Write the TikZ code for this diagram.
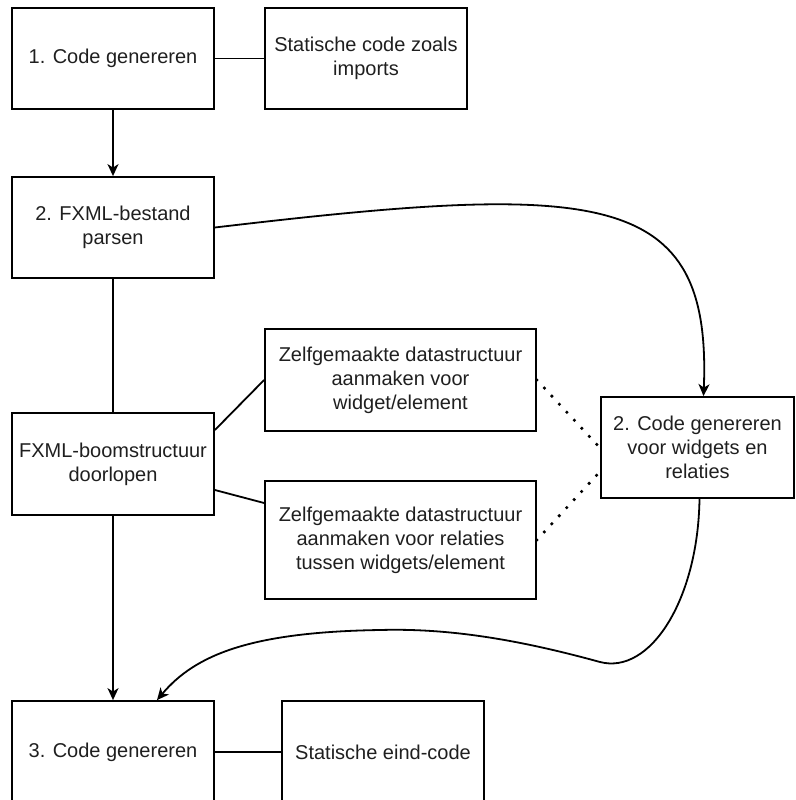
\documentclass[tikz,border=0pt]{standalone}
\usepackage{fontspec}
\setmainfont{Liberation Sans}
\usetikzlibrary{arrows.meta,calc}
\begin{document}
\begin{tikzpicture}[x=1pt,y=-1pt,
  box/.style={draw=black,line width=1.8pt,rectangle,align=center,
    inner sep=0pt,text=black!88,
    font=\fontsize{20}{24}\selectfont},
  link/.style={line width=1.8pt},
  flow/.style={line width=1.8pt,-{Stealth[length=12pt,width=11pt,inset=3.5pt]}},
  dots/.style={line width=3.6pt,line cap=round,dash pattern=on 0pt off 11pt}]
\useasboundingbox (0,0) rectangle (795,800);

\node[box,minimum width=202pt,minimum height=101pt] (b1) at (113,58.5) {1. Code genereren};
\node[box,minimum width=202pt,minimum height=101pt] (s1) at (366,58.5) {Statische code zoals\\imports};
\node[box,minimum width=202pt,minimum height=101pt] (b2) at (113,227.5) {2. FXML-bestand\\parsen};
\node[box,minimum width=202pt,minimum height=102pt] (b4) at (113,464) {FXML-boomstructuur\\doorlopen};
\node[box,minimum width=271pt,minimum height=102pt] (z1) at (400.5,380) {Zelfgemaakte datastructuur\\aanmaken voor\\widget/element};
\node[box,minimum width=271pt,minimum height=118pt] (z2) at (400.5,540) {Zelfgemaakte datastructuur\\aanmaken voor relaties\\tussen widgets/element};
\node[box,minimum width=193pt,minimum height=101pt] (cw) at (697.5,447.5) {2. Code genereren\\voor widgets en\\relaties};
\node[box,minimum width=202pt,minimum height=102pt] (b3) at (113,752) {3. Code genereren};
\node[box,minimum width=202pt,minimum height=102pt] (s3) at (383,752) {Statische eind-code};

% plain links
\draw[link] (b1.east) -- (s1.west);
\draw[link] (b3.east) -- (s3.west);
\draw[link] (b2.south) -- (b4.north);
\draw[link] ($(b4.east)+(0,-34)$) -- (z1.west);
\draw[link] ($(b4.east)+(0,26)$) -- ($(z2.west)+(0,-37)$);

% dotted relations
\draw[dots] (z1.east) -- ($(cw.west)+(0,0.5)$);
\draw[dots] (z2.east) -- ($(cw.west)+(0,24)$);

% flow arrows
\draw[flow] (b1.south) -- (b2.north);
\draw[flow] (b4.south) -- (b3.north);
\draw[flow] (b2.east) .. controls (600,182) and (712,188) .. ($(cw.north)+(6,0)$);
\draw[flow] ($(cw.south)+(2,0)$) .. controls (698,600) and (650,675) .. (600,662)
  .. controls (520,640) and (450,628) .. (380,630)
  .. controls (250,632) and (195,655) .. ($(b3.north)+(44,0)$);
\end{tikzpicture}
\end{document}
